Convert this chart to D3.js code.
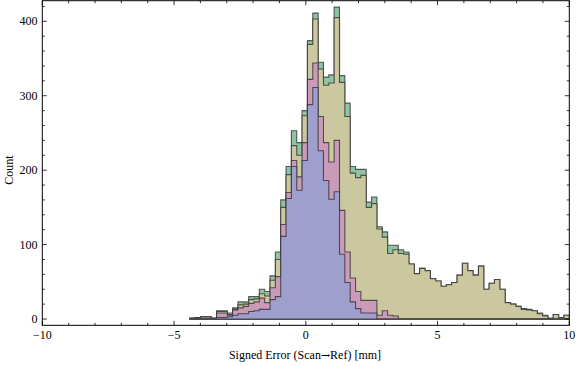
<!DOCTYPE html>
<html><head><meta charset="utf-8">
<script src="https://cdn.jsdelivr.net/npm/d3@7"></script>
<style>body{margin:0;background:#fff}svg{display:block}text{font-family:"Liberation Serif","Times New Roman",serif;fill:#000}</style>
</head><body><svg id="c" width="576" height="366"></svg>
<script>
// histogram bins: 71 equal bins from -4.4 to 10
const binLo = -4.4, binHi = 10, binCount = 71;
const green = [1,2,3,3,1,11,11,8,15,23,23,30,30,40,37,58,90,160,205,253,237,280,374,411,345,325,328,419,327,290,205,201,201,157,164,124,117,99,99,93,90,74,61,68,65,54,51,44,46,49,59,75,65,59,71,40,48,53,40,22,20,17,14,13,11,8,5,1,6,2,5];
const tan   = [1,2,3,3,1,10,10,6,13,19,20,26,27,34,31,52,80,150,194,233,220,273,369,403,336,314,317,405,318,272,196,190,193,150,155,121,110,88,93,88,87,74,61,68,65,54,51,44,46,49,59,75,65,59,71,40,48,53,40,22,20,17,13,12,11,7,4,1,6,2,5];
const pink  = [1,2,3,3,1,8,8,5,12,15,17,21,23,28,22,42,57,127,170,213,191,237,322,344,272,237,211,240,146,90,55,37,25,25,25,5,11,5,4,0,0,0,0,0,0,0,0,0,0,0,0,0,0,0,0,0,0,0,0,0,0,0,0,0,0,0,0,0,0,0,0];
const blue  = [1,1,1,1,1,2,2,3,5,7,7,10,11,13,13,26,30,111,162,205,173,213,288,311,226,186,161,171,87,49,23,14,8,8,8,0,0,0,0,0,0,0,0,0,0,0,0,0,0,0,0,0,0,0,0,0,0,0,0,0,0,0,0,0,0,0,0,0,0,0,0];
const seriesNames = ["green","tan","pink","blue"];
const xTicksMajor = [-10,-5,0,5,10];
const yTicksMajor = [0,100,200,300,400];
const xLabelParts = ["Signed Error (Scan", "\u2192", "Ref) [mm]"];
const yLabel = "Count";

const colors = {green:"#8fc3a1", tan:"#cbc79f", pink:"#c99bb9", blue:"#9f9fce"};
const data = {green, tan, pink, blue};

const svg = d3.select("#c");
const L = 42.3, R = 569.3, T = 0.7, B = 325.3;
const x = d3.scaleLinear().domain([-10,10]).range([L,R]);
const y = d3.scaleLinear().domain([0,400]).range([319,21.3]);
const bw = (binHi - binLo)/binCount;
const edges = d3.range(binCount+1).map(i => binLo + i*bw);

svg.append("clipPath").attr("id","clip").append("rect")
  .attr("x",L).attr("y",T).attr("width",R-L).attr("height",B-T);

const g = svg.append("g").attr("clip-path","url(#clip)");
const line = d3.line().x(d=>x(d[0])).y(d=>y(d[1]));
seriesNames.forEach(name => {
  const vals = data[name];
  const pts = [[edges[0],0]];
  vals.forEach((v,i)=>{ pts.push([edges[i],v]); pts.push([edges[i+1],v]); });
  pts.push([edges[binCount],0]);
  g.append("path").attr("d", line(pts)+"Z")
    .attr("fill", colors[name])
    .attr("stroke","#333").attr("stroke-opacity",0.8)
    .attr("stroke-width",1.1).attr("stroke-linejoin","miter");
});

// frame
svg.append("rect").attr("x",L).attr("y",T).attr("width",R-L).attr("height",B-T)
  .attr("fill","none").attr("stroke","#000").attr("stroke-width",1);

// ticks
const tk = svg.append("g").attr("stroke","#000").attr("stroke-width",0.8);
const xMinor = d3.range(-10,11,1);
xMinor.forEach(v=>{
  const len = xTicksMajor.includes(v)?4.5:2.5;
  tk.append("line").attr("x1",x(v)).attr("x2",x(v)).attr("y1",B).attr("y2",B-len);
  tk.append("line").attr("x1",x(v)).attr("x2",x(v)).attr("y1",T).attr("y2",T+len);
});
const yMinor = d3.range(0,421,20);
yMinor.forEach(v=>{
  const len = yTicksMajor.includes(v)?4.5:2.5;
  tk.append("line").attr("x1",L).attr("x2",L+len).attr("y1",y(v)).attr("y2",y(v));
  tk.append("line").attr("x1",R).attr("x2",R-len).attr("y1",y(v)).attr("y2",y(v));
});

// labels
xTicksMajor.forEach(v=>{
  svg.append("text").attr("x",x(v)).attr("y",339).attr("text-anchor","middle")
    .attr("font-size",12).text(v<0?"\u2212"+Math.abs(v):String(v));
});
yTicksMajor.forEach(v=>{
  svg.append("text").attr("x",37.5).attr("y",y(v)+4).attr("text-anchor","end")
    .attr("font-size",12).text(String(v));
});
const xl = svg.append("text").attr("x",305).attr("y",359).attr("text-anchor","middle").attr("font-size",12);
xl.append("tspan").text(xLabelParts[0]);
xl.append("tspan").style("font-family","'DejaVu Serif'").attr("font-size",11).text(xLabelParts[1]);
xl.append("tspan").text(xLabelParts[2]);
svg.append("text").attr("transform","translate(13,170) rotate(-90)").attr("text-anchor","middle")
  .attr("font-size",12).text(yLabel);
</script></body></html>
